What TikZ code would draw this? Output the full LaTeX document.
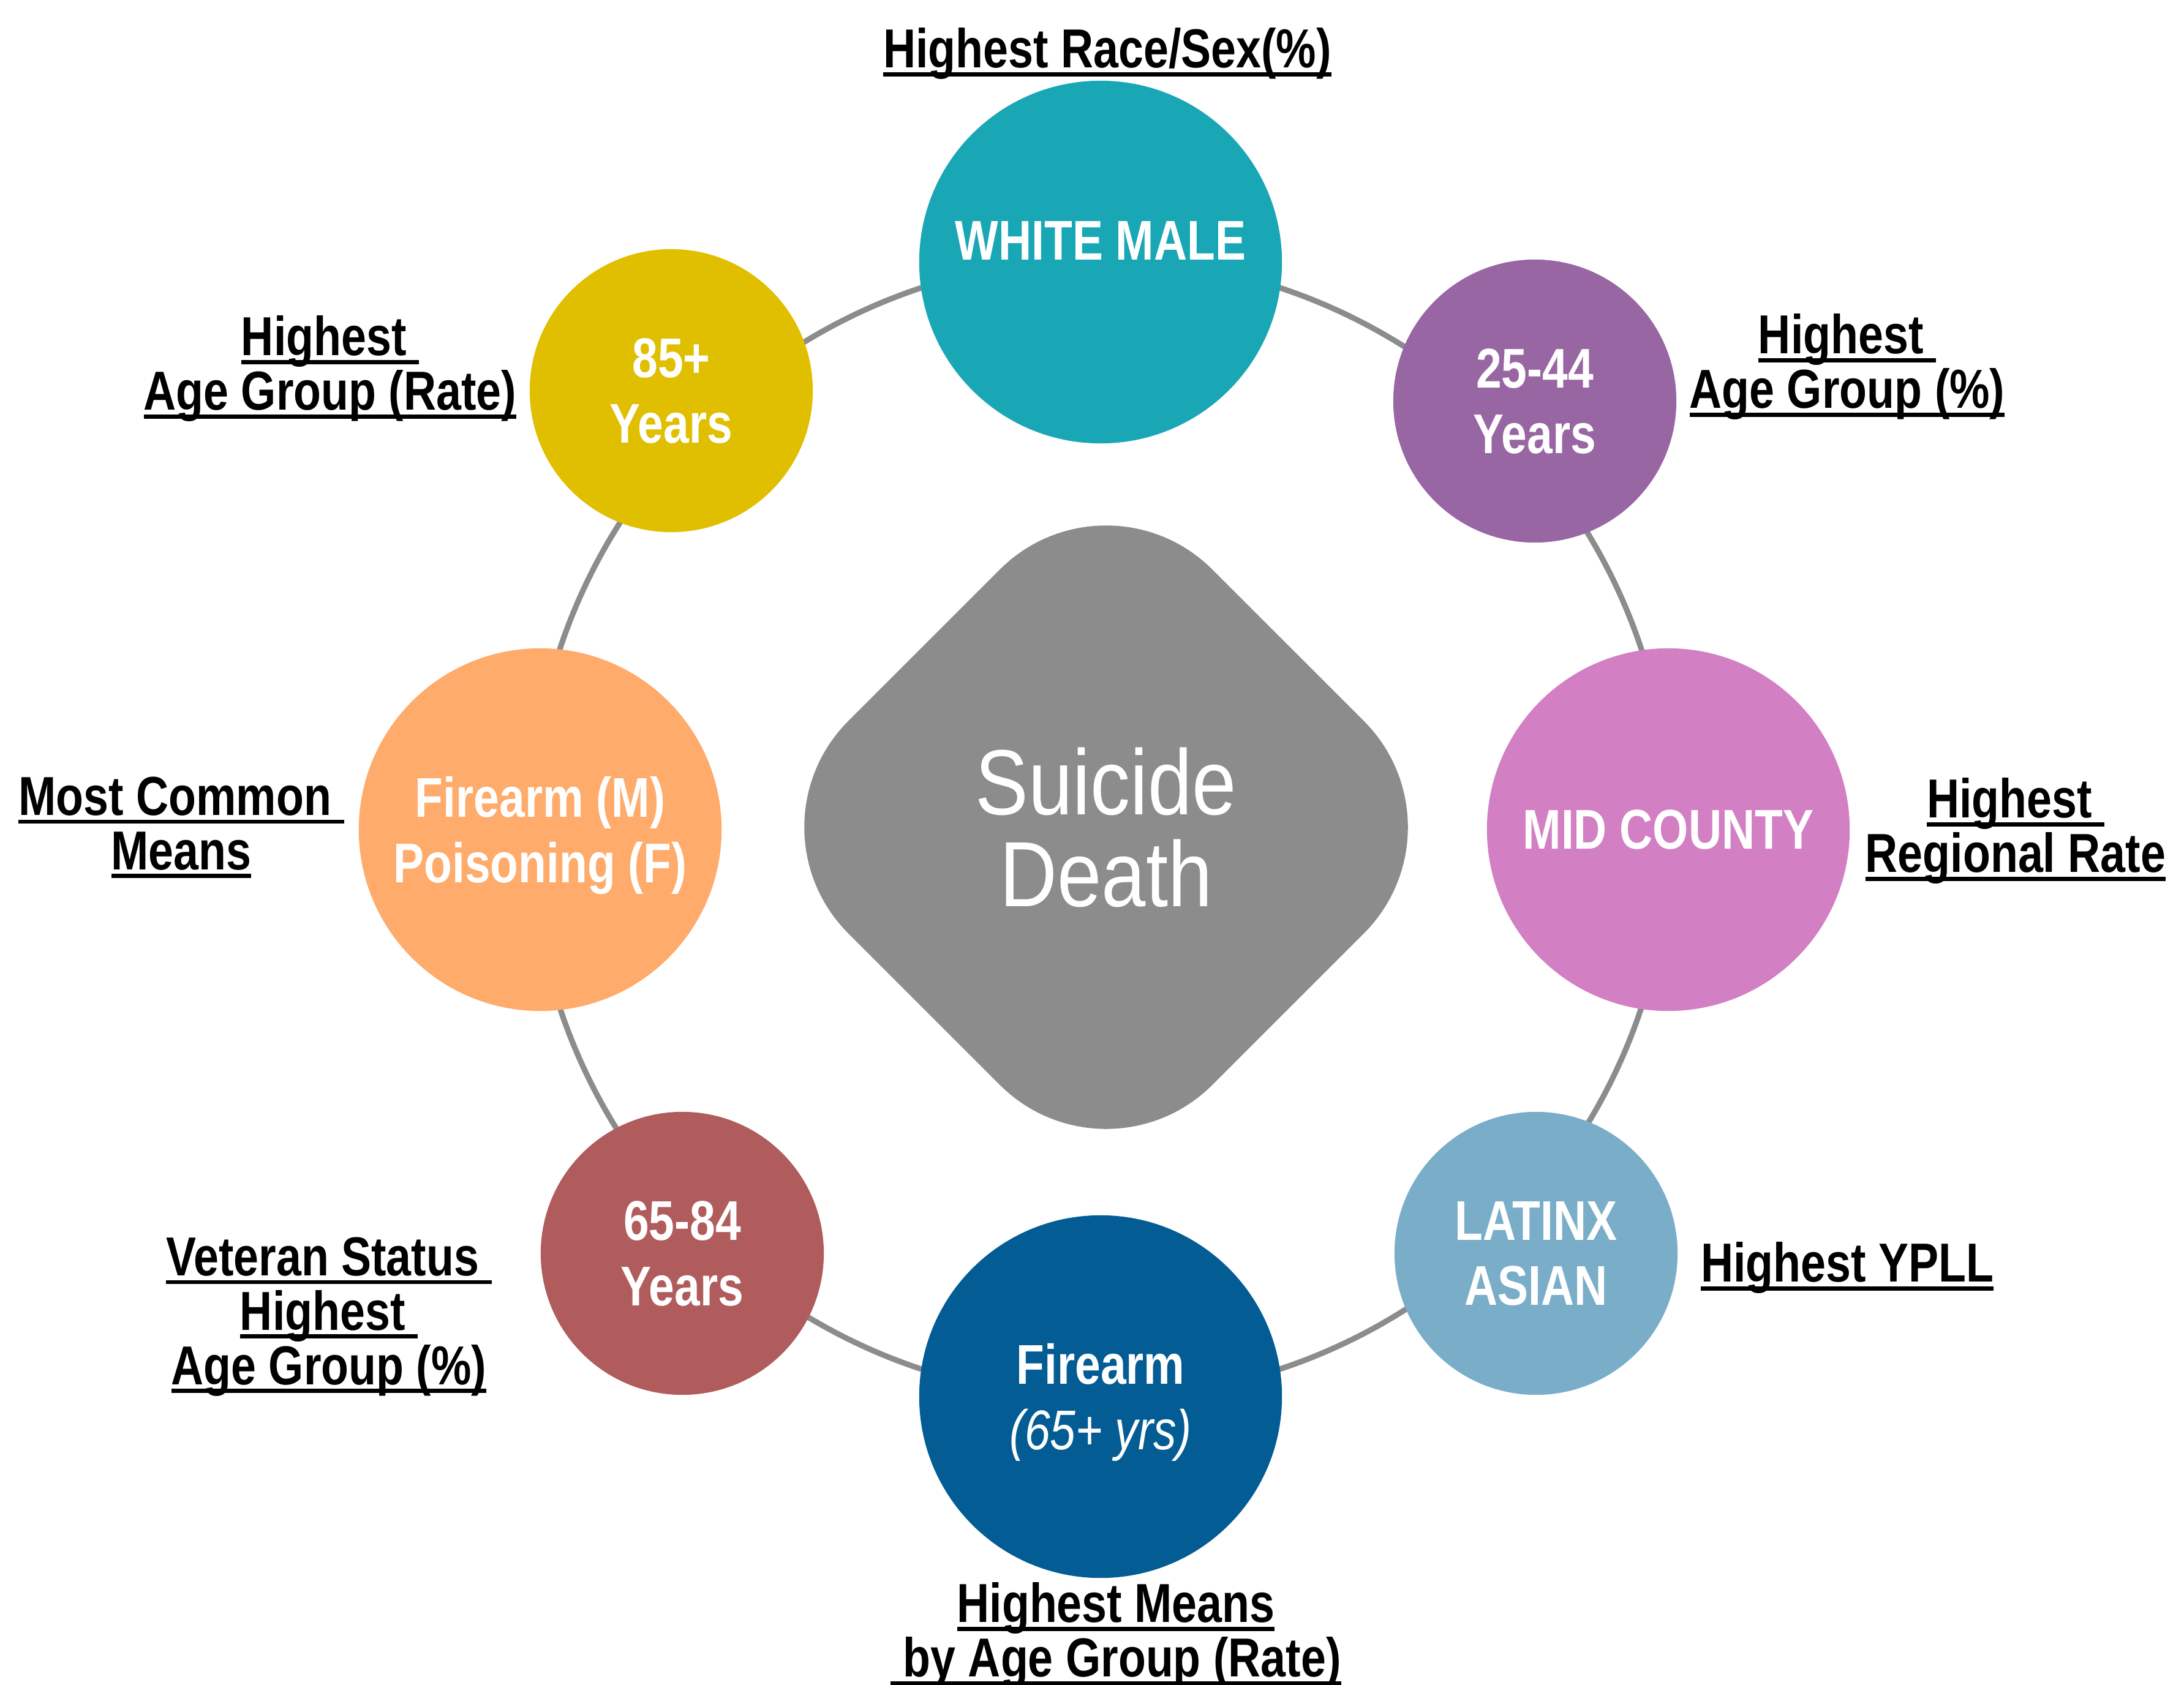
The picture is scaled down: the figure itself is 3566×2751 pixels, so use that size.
\documentclass[tikz,border=0pt]{standalone}
\usepackage{fontspec}
\setmainfont{Liberation Sans}[FakeStretch=0.82]
\newfontfamily\corefont{Liberation Sans}[FakeStretch=0.86]

\definecolor{ringgray}{HTML}{8C8C8C}
\definecolor{cwhite}{HTML}{1AA7B5}
\definecolor{cyoung}{HTML}{9866A3}
\definecolor{cmid}{HTML}{D27FC3}
\definecolor{clatinx}{HTML}{7AAEC8}
\definecolor{cfirearm}{HTML}{035C94}
\definecolor{cmiddle}{HTML}{B05C5C}
\definecolor{cmeans}{HTML}{FEAB6C}
\definecolor{cold}{HTML}{E0BF00}

\newcommand\circfont{\fontsize{26pt}{30.4pt}\selectfont\bfseries}
\newcommand\lblfont{\fontsize{25.5pt}{25.3pt}\selectfont\bfseries}
\newcommand\undl[1]{\setbox0=\hbox{#1}\rlap{\rule[-0.155em]{\wd0}{0.075em}}\box0}

\begin{document}
\begin{tikzpicture}[x=0.01cm, y=-0.01cm,
    ring/.style={draw=ringgray, line width=2.6pt},
    disc/.style={circle, inner sep=0pt, text=white, align=center, text depth=0pt, font=\circfont},
    big/.style={disc, minimum size=5.92cm},
    small/.style={disc, minimum size=4.62cm},
    core/.style={fill=ringgray, inner sep=0pt, minimum size=8.4cm, rounded corners=2.45cm, rotate=45},
    lbl/.style={anchor=north, inner sep=0pt, align=center, font=\lblfont}]
    \useasboundingbox (0,0) rectangle (3566,2751);

    % ring behind the circles
    \coordinate (hub) at (1797,1353);
    \draw[ring] (hub) circle[radius=930];

    % centre
    \node[core] (core) at (1806,1351) {};
    \node[text=white, align=center, text depth=0pt,
          font=\corefont\fontsize{43pt}{42.6pt}\selectfont] (coretxt) at (core.center) {Suicide\\Death};

    % circles round the ring
    \node[big, fill=cwhite] (white) at (1797,428) {};
    \node[disc] (whitetxt) at ([yshift=0.35cm]white.center) {WHITE MALE};
    \node[small, fill=cyoung] (young) at (2506,655) {25-44\\Years};
    \node[big, fill=cmid] (mid) at (2724,1355) {MID COUNTY};
    \node[small, fill=clatinx] (latinx) at (2508,2047) {LATINX\\ASIAN};
    \node[big, fill=cfirearm] (firearm) at (1797,2281) {Firearm\\{\mdseries\itshape (65+ yrs)}};
    \node[small, fill=cmiddle] (middle) at (1114,2047) {65-84\\Years};
    \node[big, fill=cmeans] (means) at (882,1355) {Firearm (M)\\Poisoning (F)};
    \node[small, fill=cold] (old) at (1096,638) {85+\\Years};

    % labels
    \node[lbl] (lrace) at (1808,45) {\undl{Highest Race/Sex(\%)}};
    \node[lbl] (lrate) at (539,515) {\undl{Highest\ }\\\undl{Age Group (Rate)}};
    \node[lbl] (lpct) at (3016,512) {\undl{Highest\ }\\\undl{Age Group (\%)}};
    \node[lbl] (lmeans) at (296,1268) {\undl{Most Common\ }\\\undl{Means}};
    \node[lbl] (lregion) at (3291,1270) {\undl{Highest\ }\\\undl{Regional Rate}};
    \node[lbl] (lvet) at (537,2020) {\undl{Veteran Status\ }\\\undl{Highest\ }\\\undl{Age Group (\%)}};
    \node[lbl] (lypll) at (3016,2028) {\undl{Highest YPLL}};
    \node[lbl] (lmeansage) at (1822,2584) {\undl{Highest Means}\\\undl{\ by Age Group (Rate)}};
\end{tikzpicture}
\end{document}
